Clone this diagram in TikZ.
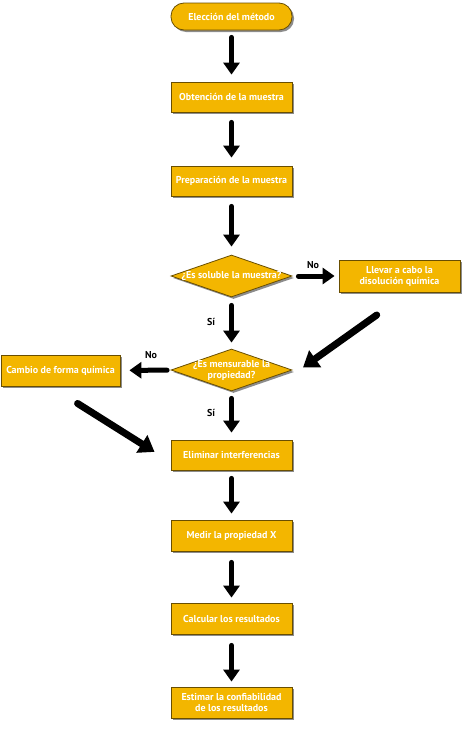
\documentclass[tikz,border=0pt]{standalone}
\usepackage{fontspec}
\setmainfont{PT Sans}
\usetikzlibrary{arrows.meta,shapes.geometric,shadows,positioning}
\definecolor{myamber}{RGB}{243,182,0}
\definecolor{mybrown}{RGB}{105,78,0}
\tikzstyle{procbox}=[draw=mybrown,fill=myamber,rectangle,line width=0.8pt,minimum width=121pt,minimum height=30pt,inner sep=1pt,text=white,font=\bfseries\fontsize{10}{11}\selectfont,align=center,drop shadow={shadow xshift=2pt,shadow yshift=-2pt,opacity=0.45,fill=black}]
\tikzstyle{flow}=[-{Triangle[width=16pt,length=12pt]},line width=5pt,line cap=round]

\begin{document}
\begin{tikzpicture}[x=1pt,y=-1pt]
\tikzstyle{terminal}=[procbox,rounded corners=13pt,minimum height=27pt]
\tikzstyle{decision}=[procbox,diamond,minimum width=121pt,minimum height=42pt,inner sep=0pt,aspect=2.9]
\tikzstyle{bigflow}=[-{Triangle[width=20pt,length=15pt]},line width=7pt,line cap=round]
\tikzstyle{tag}=[font=\bfseries\fontsize{10}{11}\selectfont]
\tikzstyle{qtext}=[text=white,font=\bfseries\fontsize{10}{11}\selectfont,align=center]
\useasboundingbox (0,0) rectangle (473,731);
\draw (231.5, 16.5) node [terminal] (start) {Elección del método};
\draw (231.5, 97) node [procbox] (obt) {Obtención de la muestra};
\draw (231.5, 181) node [procbox] (prep) {Preparación de la muestra};
\draw (231.5, 276) node [decision, label={[qtext]center:¿Es soluble la muestra?}] (sol) {};
\draw (399.5, 276) node [procbox, minimum height=32pt] (disol) {Llevar a cabo la\\disolución química};
\draw (231.5, 370) node [decision, label={[qtext]center:¿Es mensurable la\\propiedad?}] (mens) {};
\draw (60.5, 370.5) node [procbox, minimum width=119pt, minimum height=31pt] (forma) {Cambio de forma química};
\draw (231.5, 455) node [procbox] (elim) {Eliminar interferencias};
\draw (231.5, 535.5) node [procbox, minimum height=31pt] (medir) {Medir la propiedad X};
\draw (231.5, 618.5) node [procbox, minimum height=31pt] (calc) {Calcular los resultados};
\draw (231.5, 702.5) node [procbox, minimum height=31pt] (estim) {Estimar la confiabilidad\\de los resultados};
\draw (313, 265) node [tag] (no1) {No};
\draw (151, 355) node [tag] (no2) {No};
\draw (211, 322) node [tag] (si1) {Sí};
\draw (211, 413) node [tag] (si2) {Sí};
\draw[flow, shorten <=7pt, shorten >=7pt] (start) -- (obt);
\draw[flow, shorten <=10pt, shorten >=8pt] (obt) -- (prep);
\draw[flow, shorten <=10pt, shorten >=8pt] (prep) -- (sol);
\draw[flow, shorten <=6pt, shorten >=4pt] (sol) -- (disol);
\draw[flow, shorten <=8pt, shorten >=6pt] (sol) -- (mens);
\draw[flow, shorten <=4pt, shorten >=9pt] (mens) -- (forma);
\draw[flow, shorten <=7pt, shorten >=7pt] (mens) -- (elim);
\draw[flow, shorten <=8pt, shorten >=6pt] (elim) -- (medir);
\draw[flow, shorten <=11pt, shorten >=5pt] (medir) -- (calc);
\draw[flow, shorten <=11pt, shorten >=5pt] (calc) -- (estim);
\draw[bigflow, shorten <=39pt, shorten >=13pt] ([xshift=9pt]disol.south) -- ([yshift=-5pt]mens.east);
\draw[bigflow, shorten <=32pt, shorten >=19pt] ([xshift=-10pt]forma.south) -- ([yshift=-7pt]elim.west);
\end{tikzpicture}
\end{document}
